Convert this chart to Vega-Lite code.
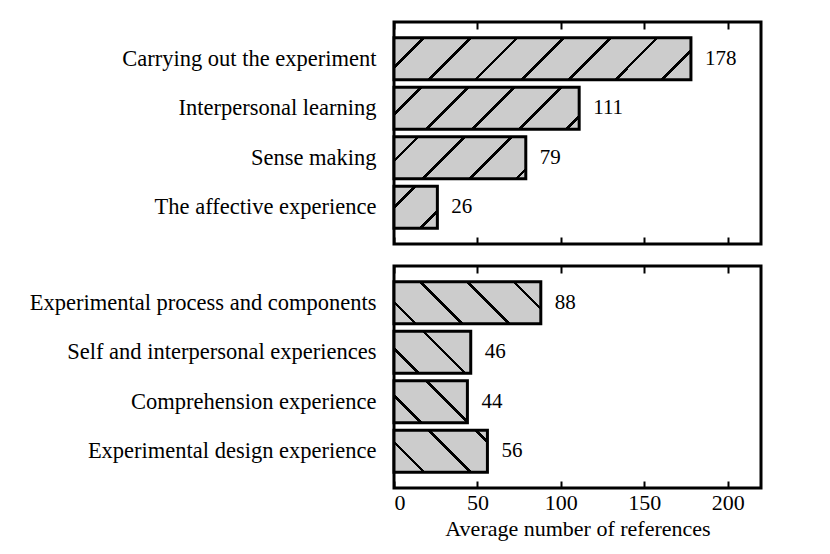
{
  "$schema": "https://vega.github.io/schema/vega-lite/v6.json",
  "padding": {"left": 27, "top": 19, "right": 10, "bottom": 5},
  "background": "white",
  "data": {
    "values": [
      {"group": "a", "label": "Carrying out the experiment", "value": 178},
      {"group": "a", "label": "Interpersonal learning", "value": 111},
      {"group": "a", "label": "Sense making", "value": 79},
      {"group": "a", "label": "The affective experience", "value": 26},
      {"group": "b", "label": "Experimental process and components", "value": 88},
      {"group": "b", "label": "Self and interpersonal experiences", "value": 46},
      {"group": "b", "label": "Comprehension experience", "value": 44},
      {"group": "b", "label": "Experimental design experience", "value": 56}
    ]
  },
  "spacing": 16,
  "vconcat": [
    {
      "width": 367,
      "height": 222,
      "transform": [{"filter": "datum.group === 'a'"}],
      "encoding": {
        "y": {
          "field": "label", "type": "nominal",
          "scale": {"domain": ["Carrying out the experiment", "Interpersonal learning", "Sense making", "The affective experience"], "paddingInner": 0.15, "paddingOuter": 0.3175},
          "axis": {"title": null, "ticks": false, "domain": false, "labelPadding": 18, "labelFontSize": 22.5, "labelLimit": 0}
        }
      },
      "layer": [
        {
          "transform": [{"filter": "datum.label === 'Carrying out the experiment'"}],
          "mark": {"type": "bar", "stroke": "black", "strokeWidth": 3, "fill": {"gradient": "linear", "x1": 0, "y1": 0, "x2": 1.1191, "y2": 0.15828, "stops": [
            {"offset": 0, "color": "#cccccc"},
            {"offset": 0.0829, "color": "#cccccc"}, {"offset": 0.0829, "color": "black"}, {"offset": 0.0941, "color": "black"}, {"offset": 0.0941, "color": "#cccccc"},
            {"offset": 0.2206, "color": "#cccccc"}, {"offset": 0.2206, "color": "black"}, {"offset": 0.2318, "color": "black"}, {"offset": 0.2318, "color": "#cccccc"},
            {"offset": 0.3582, "color": "#cccccc"}, {"offset": 0.3582, "color": "black"}, {"offset": 0.3694, "color": "black"}, {"offset": 0.3694, "color": "#cccccc"},
            {"offset": 0.4959, "color": "#cccccc"}, {"offset": 0.4959, "color": "black"}, {"offset": 0.5071, "color": "black"}, {"offset": 0.5071, "color": "#cccccc"},
            {"offset": 0.6337, "color": "#cccccc"}, {"offset": 0.6337, "color": "black"}, {"offset": 0.6449, "color": "black"}, {"offset": 0.6449, "color": "#cccccc"},
            {"offset": 0.7713, "color": "#cccccc"}, {"offset": 0.7713, "color": "black"}, {"offset": 0.7825, "color": "black"}, {"offset": 0.7825, "color": "#cccccc"},
            {"offset": 0.9090, "color": "#cccccc"}, {"offset": 0.9090, "color": "black"}, {"offset": 0.9202, "color": "black"}, {"offset": 0.9202, "color": "#cccccc"},
            {"offset": 1, "color": "#cccccc"}
          ]}},
          "encoding": {
            "x": {"field": "value", "type": "quantitative", "scale": {"domain": [0, 220], "nice": false},
              "axis": {"orient": "bottom", "values": [0, 50, 100, 150, 200], "labels": false, "title": null, "domain": false, "tickSize": -7, "tickWidth": 2, "tickColor": "black", "grid": false}}
          }
        },
        {
          "transform": [{"filter": "datum.label === 'Interpersonal learning'"}],
          "mark": {"type": "bar", "stroke": "black", "strokeWidth": 3, "fill": {"gradient": "linear", "x1": 0, "y1": 0, "x2": 1.1668, "y2": 0.26465, "stops": [
            {"offset": 0, "color": "#cccccc"},
            {"offset": 0.1113, "color": "#cccccc"}, {"offset": 0.1113, "color": "black"}, {"offset": 0.1281, "color": "black"}, {"offset": 0.1281, "color": "#cccccc"},
            {"offset": 0.3169, "color": "#cccccc"}, {"offset": 0.3169, "color": "black"}, {"offset": 0.3337, "color": "black"}, {"offset": 0.3337, "color": "#cccccc"},
            {"offset": 0.5220, "color": "#cccccc"}, {"offset": 0.5220, "color": "black"}, {"offset": 0.5388, "color": "black"}, {"offset": 0.5388, "color": "#cccccc"},
            {"offset": 0.7276, "color": "#cccccc"}, {"offset": 0.7276, "color": "black"}, {"offset": 0.7444, "color": "black"}, {"offset": 0.7444, "color": "#cccccc"},
            {"offset": 0.9332, "color": "#cccccc"}, {"offset": 0.9332, "color": "black"}, {"offset": 0.9500, "color": "black"}, {"offset": 0.9500, "color": "#cccccc"},
            {"offset": 1, "color": "#cccccc"}
          ]}},
          "encoding": {"x": {"field": "value", "type": "quantitative", "axis": null}}
        },
        {
          "transform": [{"filter": "datum.label === 'Sense making'"}],
          "mark": {"type": "bar", "stroke": "black", "strokeWidth": 3, "fill": {"gradient": "linear", "x1": 0, "y1": 0, "x2": 1.1971, "y2": 0.38151, "stops": [
            {"offset": 0, "color": "#cccccc"},
            {"offset": 0.1289, "color": "#cccccc"}, {"offset": 0.1289, "color": "black"}, {"offset": 0.1507, "color": "black"}, {"offset": 0.1507, "color": "#cccccc"},
            {"offset": 0.3976, "color": "#cccccc"}, {"offset": 0.3976, "color": "black"}, {"offset": 0.4194, "color": "black"}, {"offset": 0.4194, "color": "#cccccc"},
            {"offset": 0.6658, "color": "#cccccc"}, {"offset": 0.6658, "color": "black"}, {"offset": 0.6876, "color": "black"}, {"offset": 0.6876, "color": "#cccccc"},
            {"offset": 0.9345, "color": "#cccccc"}, {"offset": 0.9345, "color": "black"}, {"offset": 0.9563, "color": "black"}, {"offset": 0.9563, "color": "#cccccc"},
            {"offset": 1, "color": "#cccccc"}
          ]}},
          "encoding": {"x": {"field": "value", "type": "quantitative", "axis": null}}
        },
        {
          "transform": [{"filter": "datum.label === 'The affective experience'"}],
          "mark": {"type": "bar", "stroke": "black", "strokeWidth": 3, "fill": {"gradient": "linear", "x1": 0, "y1": 0, "x2": 1.01578, "y2": 0.98369, "stops": [
            {"offset": 0, "color": "#cccccc"},
            {"offset": 0.2295, "color": "#cccccc"}, {"offset": 0.2295, "color": "black"}, {"offset": 0.2741, "color": "black"}, {"offset": 0.2741, "color": "#cccccc"},
            {"offset": 0.7766, "color": "#cccccc"}, {"offset": 0.7766, "color": "black"}, {"offset": 0.8212, "color": "black"}, {"offset": 0.8212, "color": "#cccccc"},
            {"offset": 1, "color": "#cccccc"}
          ]}},
          "encoding": {"x": {"field": "value", "type": "quantitative", "axis": null}}
        },
        {
          "mark": {"type": "text", "align": "left", "baseline": "middle", "dx": 14, "fontSize": 21, "font": "Liberation Serif", "color": "black"},
          "encoding": {
            "x": {"field": "value", "type": "quantitative",
              "axis": {"orient": "top", "values": [0, 50, 100, 150, 200], "labels": false, "title": null, "domain": false, "tickSize": -7, "tickWidth": 2, "tickColor": "black", "grid": false}},
            "text": {"field": "value", "type": "quantitative"}
          }
        }
      ],
      "resolve": {"axis": {"x": "independent"}}
    },
    {
      "width": 367,
      "height": 222,
      "transform": [{"filter": "datum.group === 'b'"}],
      "encoding": {
        "y": {
          "field": "label", "type": "nominal",
          "scale": {"domain": ["Experimental process and components", "Self and interpersonal experiences", "Comprehension experience", "Experimental design experience"], "paddingInner": 0.15, "paddingOuter": 0.3175},
          "axis": {"title": null, "ticks": false, "domain": false, "labelPadding": 18, "labelFontSize": 22.5, "labelLimit": 0}
        }
      },
      "layer": [
        {
          "transform": [{"filter": "datum.label === 'Experimental process and components'"}],
          "mark": {"type": "bar", "stroke": "black", "strokeWidth": 3, "fill": {"gradient": "linear", "x1": 0, "y1": 1, "x2": 1.1888, "y2": 0.65988, "stops": [
            {"offset": 0, "color": "#cccccc"},
            {"offset": 0.1054, "color": "#cccccc"}, {"offset": 0.1054, "color": "black"}, {"offset": 0.1256, "color": "black"}, {"offset": 0.1256, "color": "#cccccc"},
            {"offset": 0.3522, "color": "#cccccc"}, {"offset": 0.3522, "color": "black"}, {"offset": 0.3724, "color": "black"}, {"offset": 0.3724, "color": "#cccccc"},
            {"offset": 0.5995, "color": "#cccccc"}, {"offset": 0.5995, "color": "black"}, {"offset": 0.6197, "color": "black"}, {"offset": 0.6197, "color": "#cccccc"},
            {"offset": 0.8469, "color": "#cccccc"}, {"offset": 0.8469, "color": "black"}, {"offset": 0.8671, "color": "black"}, {"offset": 0.8671, "color": "#cccccc"},
            {"offset": 1, "color": "#cccccc"}
          ]}},
          "encoding": {
            "x": {"field": "value", "type": "quantitative", "scale": {"domain": [0, 220], "nice": false},
              "axis": {"orient": "bottom", "values": [0, 50, 100, 150, 200], "title": "Average number of references", "domain": false, "tickSize": -7, "tickWidth": 2, "tickColor": "black", "grid": false, "labelFontSize": 22, "labelPadding": 11, "titleFontSize": 22, "titleFontWeight": "normal", "titlePadding": 5}}
          }
        },
        {
          "transform": [{"filter": "datum.label === 'Self and interpersonal experiences'"}],
          "mark": {"type": "bar", "stroke": "black", "strokeWidth": 3, "fill": {"gradient": "linear", "x1": 0, "y1": 1, "x2": 1.19066, "y2": 0.34835, "stops": [
            {"offset": 0, "color": "#cccccc"},
            {"offset": 0.1912, "color": "#cccccc"}, {"offset": 0.1912, "color": "black"}, {"offset": 0.2232, "color": "black"}, {"offset": 0.2232, "color": "#cccccc"},
            {"offset": 0.5845, "color": "#cccccc"}, {"offset": 0.5845, "color": "black"}, {"offset": 0.6165, "color": "black"}, {"offset": 0.6165, "color": "#cccccc"},
            {"offset": 1, "color": "#cccccc"}
          ]}},
          "encoding": {"x": {"field": "value", "type": "quantitative", "axis": null}}
        },
        {
          "transform": [{"filter": "datum.label === 'Comprehension experience'"}],
          "mark": {"type": "bar", "stroke": "black", "strokeWidth": 3, "fill": {"gradient": "linear", "x1": 0, "y1": 1, "x2": 1.1844, "y2": 0.32228, "stops": [
            {"offset": 0, "color": "#cccccc"},
            {"offset": 0.2209, "color": "#cccccc"}, {"offset": 0.2209, "color": "black"}, {"offset": 0.2539, "color": "black"}, {"offset": 0.2539, "color": "#cccccc"},
            {"offset": 0.6256, "color": "#cccccc"}, {"offset": 0.6256, "color": "black"}, {"offset": 0.6586, "color": "black"}, {"offset": 0.6586, "color": "#cccccc"},
            {"offset": 1, "color": "#cccccc"}
          ]}},
          "encoding": {"x": {"field": "value", "type": "quantitative", "axis": null}}
        },
        {
          "transform": [{"filter": "datum.label === 'Experimental design experience'"}],
          "mark": {"type": "bar", "stroke": "black", "strokeWidth": 3, "fill": {"gradient": "linear", "x1": 0, "y1": 1, "x2": 1.20585, "y2": 0.45787, "stops": [
            {"offset": 0, "color": "#cccccc"},
            {"offset": 0.2097, "color": "#cccccc"}, {"offset": 0.2097, "color": "black"}, {"offset": 0.2377, "color": "black"}, {"offset": 0.2377, "color": "#cccccc"},
            {"offset": 0.5539, "color": "#cccccc"}, {"offset": 0.5539, "color": "black"}, {"offset": 0.5819, "color": "black"}, {"offset": 0.5819, "color": "#cccccc"},
            {"offset": 0.8987, "color": "#cccccc"}, {"offset": 0.8987, "color": "black"}, {"offset": 0.9267, "color": "black"}, {"offset": 0.9267, "color": "#cccccc"},
            {"offset": 1, "color": "#cccccc"}
          ]}},
          "encoding": {"x": {"field": "value", "type": "quantitative", "axis": null}}
        },
        {
          "mark": {"type": "text", "align": "left", "baseline": "middle", "dx": 14, "fontSize": 21, "font": "Liberation Serif", "color": "black"},
          "encoding": {
            "x": {"field": "value", "type": "quantitative",
              "axis": {"orient": "top", "values": [0, 50, 100, 150, 200], "labels": false, "title": null, "domain": false, "tickSize": -7, "tickWidth": 2, "tickColor": "black", "grid": false}},
            "text": {"field": "value", "type": "quantitative"}
          }
        }
      ],
      "resolve": {"axis": {"x": "independent"}}
    }
  ],
  "config": {
    "view": {"stroke": "black", "strokeWidth": 3},
    "font": "Liberation Serif",
    "axis": {"labelFont": "Liberation Serif", "titleFont": "Liberation Serif", "labelColor": "black", "titleColor": "black", "grid": false}
  }
}
